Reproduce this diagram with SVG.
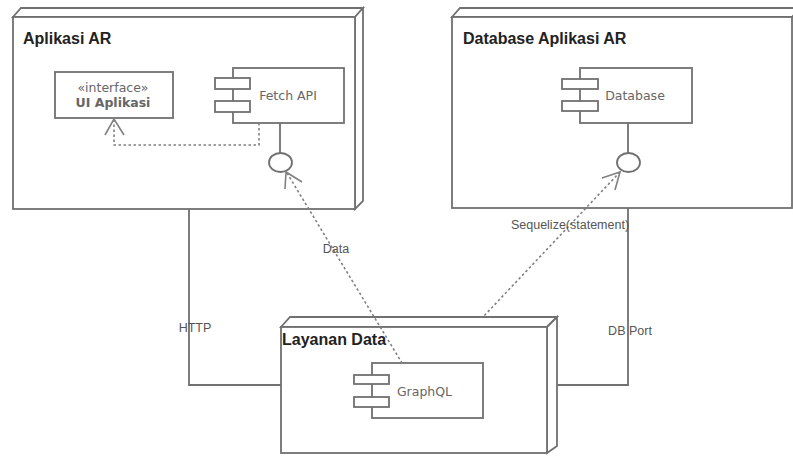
<svg xmlns="http://www.w3.org/2000/svg" width="793" height="456" viewBox="0 0 793 456">
<style>
.box{fill:#fff;stroke:#707070;stroke-width:1.8}
.ln{fill:none;stroke:#707070;stroke-width:1.8}
.dot{fill:none;stroke:#808080;stroke-width:1.6;stroke-dasharray:2.5,2.5}
.arr{fill:none;stroke:#808080;stroke-width:1.6}
.title{font-family:"Liberation Sans",Arial,sans-serif;font-weight:bold;font-size:16px;fill:#222}
.comp{font-family:"DejaVu Sans",Verdana,sans-serif;font-size:12.5px;fill:#666}
.lbl{font-family:"Liberation Sans",Arial,sans-serif;font-size:12.5px;fill:#555}
</style>
<rect width="793" height="456" fill="#fff"/>
<g id="node-aplikasi-ar">
<polygon class="box" points="13,17 21,8 363,8 355,17"/>
<polygon class="box" points="355,17 363,8 363,201 355,209"/>
<rect class="box" x="13" y="17" width="342" height="192"/>
<text class="title" x="23" y="44">Aplikasi AR</text>
</g>
<g id="node-database-aplikasi-ar">
<polygon class="box" points="452,17 460,8 800,8 792,17"/>
<rect class="box" x="452" y="17" width="340" height="191"/>
<text class="title" x="463" y="44">Database Aplikasi AR</text>
</g>
<g id="node-layanan-data">
<polygon class="box" points="281,327 290,317 557,317 547,327"/>
<polygon class="box" points="547,327 557,317 557,446 547,453"/>
<rect class="box" x="281" y="327" width="266" height="126"/>
<text class="title" x="282" y="345">Layanan Data</text>
</g>
<g id="ui-aplikasi">
<rect class="box" x="55" y="72" width="118" height="46"/>
<text class="comp" x="113" y="92" text-anchor="middle" font-size="11.5">«interface»</text>
<text class="comp" x="113" y="107" text-anchor="middle" font-weight="bold" font-size="13" fill="#333">UI Aplikasi</text>
</g>
<g id="fetch-api">
<rect class="box" x="233" y="68" width="111" height="55"/>
<rect class="box" x="215" y="78" width="35" height="11"/>
<rect class="box" x="215" y="101" width="35" height="11"/>
<text class="comp" x="288" y="100" text-anchor="middle">Fetch API</text>
</g>
<g id="database">
<rect class="box" x="580" y="68" width="112" height="55"/>
<rect class="box" x="562" y="79" width="36" height="10"/>
<rect class="box" x="562" y="101" width="36" height="10"/>
<text class="comp" x="635" y="100" text-anchor="middle">Database</text>
</g>
<g id="graphql">
<rect class="box" x="372" y="363" width="111" height="55"/>
<rect class="box" x="354" y="375" width="35" height="9"/>
<rect class="box" x="354" y="397" width="35" height="10"/>
<text class="comp" x="424.5" y="396" text-anchor="middle">GraphQL</text>
</g>
<g id="connectors">
<line class="ln" x1="280" y1="123" x2="280" y2="153"/>
<ellipse class="box" cx="280.5" cy="162.5" rx="11.5" ry="9.5"/>
<line class="ln" x1="628" y1="123" x2="628" y2="153"/>
<ellipse class="box" cx="628.5" cy="162.5" rx="11.5" ry="9.5"/>
<polyline class="dot" points="259,123 259,145 114,145 114,120"/>
<polyline class="arr" points="105,135 114,119 124,135"/>
<polyline class="ln" points="189,209 189,385 281,385"/>
<polyline class="ln" points="628,208 628,385 557,385"/>
<line class="dot" x1="287" y1="173" x2="402" y2="363"/>
<polyline class="arr" points="285,189 286,172 302,182"/>
<line class="dot" x1="620" y1="172" x2="483" y2="317"/>
<polyline class="arr" points="602,178 620,172 615,190"/>
<text class="lbl" x="195" y="332" text-anchor="middle">HTTP</text>
<text class="lbl" x="336" y="253" text-anchor="middle">Data</text>
<text class="lbl" x="570" y="229" text-anchor="middle">Sequelize(statement)</text>
<text class="lbl" x="630" y="335" text-anchor="middle">DB Port</text>
</g>
</svg>
